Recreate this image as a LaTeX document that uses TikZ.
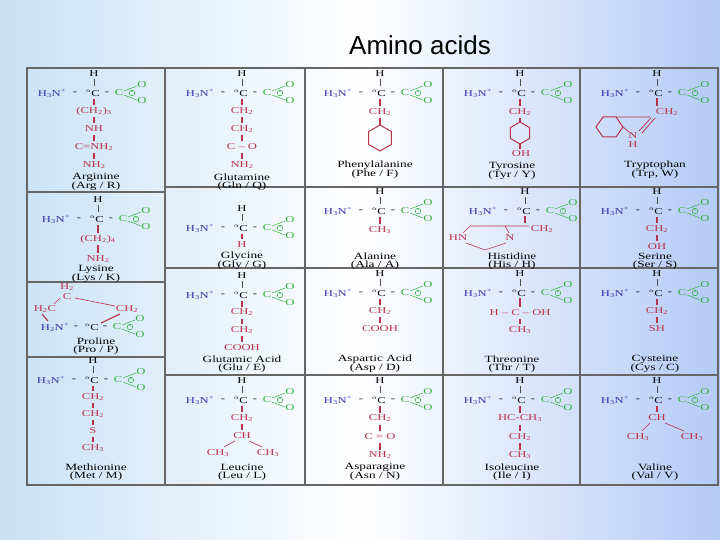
\documentclass[tikz,border=0pt]{standalone}
\usepackage{fontspec}
\setmainfont{Liberation Serif}[FakeStretch=1.4]
\newfontfamily\titlefont{Liberation Sans}
\definecolor{aab}{RGB}{50,50,170}
\definecolor{aar}{RGB}{185,50,75}
\definecolor{aag}{RGB}{50,175,60}
\definecolor{bgb}{RGB}{200,225,245}
\begin{document}
\begin{tikzpicture}[x=1pt,y=-1pt,
 every node/.style={inner sep=0pt,font=\fontsize{9}{10}\selectfont},
 bl/.style={text=aab}, rd/.style={text=aar}, gr/.style={text=aag},
 rl/.style={draw=aar,line width=1.1pt}, gl/.style={draw=aag,line width=0.5pt},
 kl/.style={draw=black!70,line width=0.6pt},
 grid/.style={draw=black!60,line width=1.3pt}]
\useasboundingbox (0,0) rectangle (720,540);
\shade[left color=bgb,right color=bgb!90!blue,middle color=white] (0,0) rectangle (720,540);
\node[font=\titlefont\fontsize{26}{28}\selectfont] (title) at (420,45) {Amino acids};
% core
\newcommand\aacore[2]{%
 \node[bl] at (#1-42,#2) {H\textsubscript{3}N\textsuperscript{+}};
 \node at (#1-19,#2) {-};
 \node at (#1-1,#2) {\textsuperscript{\fontsize{6}{6}\selectfont$\alpha$}C};
 \node at (#1+13,#2) {-};
 \node[gr] (gc) at (#1+25,#2) {C};
 \node[gr] at (#1+48,#2-8) {O};
 \node[gr] at (#1+48,#2+8) {O};
 \draw[gl] (#1+30,#2-2)--(#1+43,#2-7) (#1+30,#2+2)--(#1+43,#2+7);
 \draw[gl] (#1+38,#2) circle (2.8pt);
 \node[gr,font=\fontsize{6}{6}\selectfont] at (#1+38,#2) {-};
 \node at (#1,#2-19) {H};
 \draw[kl] (#1,#2-14)--(#1,#2-7);}
\newcommand\aachain[4]{% x y step list
 \foreach[count=\i] \t in {#4} {
  \node[rd] at (#1,#2+\i*#3) {\t};
  \draw[rl] (#1,#2+\i*#3-#3+6)--(#1,#2+\i*#3-6);}}
\newcommand\aaname[4]{\node[font=\fontsize{9.5}{10}\selectfont] at (#1,#2) {#3}; \node[font=\fontsize{9.5}{10}\selectfont] at (#1,#2+9.5) {#4};}
\newcommand\CH[1]{CH\textsubscript{#1}}
% grid
\draw[grid] (27,68) rectangle (718,485);
\foreach \x in {165,305,443,580} \draw[grid] (\x,68)--(\x,485);
\draw[grid] (27,192)--(165,192) (27,282)--(165,282) (27,357)--(165,357);
\draw[grid] (165,187)--(718,187) (165,268)--(718,268) (165,375)--(718,375);
% Col 1
\aacore{94}{93}\aachain{94}{93}{18}{(\CH2)\textsubscript{3},NH,C=NH\textsubscript{2},NH\textsubscript{2}}
\aaname{96}{177}{Arginine}{(Arg / R)}
\aacore{98}{219}\aachain{98}{219}{20}{(\CH2)\textsubscript{4},NH\textsubscript{2}}
\aaname{96}{269}{Lysine}{(Lys / K)}
% proline
\node[rd] (pc) at (67,292) {\shortstack{H\textsubscript{2}\\C}};
\node[rd] (ph) at (45,309) {H\textsubscript{2}C};
\node[rd] (pr) at (127,309) {\CH2};
\node[bl] (pn) at (55,327) {H\textsubscript{2}N\textsuperscript{+}};
\node at (76,327) {-};
\node (pa) at (92,327) {\textsuperscript{\fontsize{6}{6}\selectfont$\alpha$}C};
\node at (105,327) {-};
\node[gr] at (117,327) {C};
\node[gr] at (140,319) {O}; \node[gr] at (140,335) {O};
\draw[gl] (122,325)--(135,320) (122,329)--(135,334) (130,327) circle (2.8pt);
\node[gr,font=\fontsize{6}{6}\selectfont] at (130,327) {-};
\draw[rl,line width=0.6pt] (60,298)--(54,304) (75,298)--(115,306);
\draw[rl] (42,314)--(48,321) (120,314)--(101,323);
\aaname{96}{341}{Proline}{(Pro / P)}
\aacore{93}{380}\aachain{93}{380}{17}{\CH2,\CH2,S,\CH3}
\aaname{96}{467}{Methionine}{(Met / M)}
% Col 2
\aacore{242}{93}\aachain{242}{93}{18}{\CH2,\CH2,C -- O,NH\textsubscript{2}}
\aaname{242}{177}{Glutamine}{(Gln / Q)}
\aacore{242}{228}\aachain{242}{228}{17}{H}
\aaname{242}{256}{Glycine}{(Gly / G)}
\aacore{242}{295}\aachain{242}{295}{17.5}{\CH2,\CH2,COOH}
\aaname{242}{359}{Glutamic Acid}{(Glu / E)}
\aacore{242}{400}\aachain{242}{400}{18}{\CH2,CH}
\node[rd] at (218,453) {\CH3}; \node[rd] at (268,453) {\CH3};
\draw[rl,line width=0.6pt] (235,441)--(224,447) (249,441)--(262,447);
\aaname{242}{467}{Leucine}{(Leu / L)}
% Col 3
\aacore{380}{93}\aachain{380}{93}{19}{\CH2}
\draw[rl] (380,118)--(380,125);
\draw[aar,line width=1pt] (380,125)--++(30:13)--++(90:13)--++(150:13)--++(210:13)--++(270:13)--cycle;
\aaname{375}{165}{Phenylalanine}{(Phe / F)}
\aacore{380}{211}\aachain{380}{211}{19}{\CH3}
\aaname{375}{256}{Alanine}{(Ala / A)}
\aacore{380}{293}\aachain{380}{293}{18}{\CH2,COOH}
\aaname{375}{359}{Aspartic Acid}{(Asp / D)}
\aacore{380}{400}\aachain{380}{400}{18.5}{\CH2,C = O,NH\textsubscript{2}}
\aaname{375}{467}{Asparagine}{(Asn / N)}
% Col 4
\aacore{520}{93}\aachain{520}{93}{19}{\CH2}
\draw[rl] (520,118)--(520,122);
\draw[aar,line width=1pt] (520,122)--++(30:11)--++(90:11)--++(150:11)--++(210:11)--++(270:11)--cycle;
\draw[rl] (520,144)--(520,149);
\node[rd] at (521,154) {OH};
\aaname{512}{166}{Tyrosine}{(Tyr / Y)}
\aacore{525}{211}
\node[rd] at (542,229) {\CH2};
\draw[rl] (525,216)--(525,223);
\node[rd] at (458,238) {HN}; \node[rd] at (510,238) {N};
\draw[aar,line width=0.6pt] (529,226)--(470,226)--(463,233) (505,226)--(509,233) (466,243)--(485,250)--(506,243);
\aaname{512}{256}{Histidine}{(His / H)}
\aacore{520}{293}
\node[rd] at (520,313) {H -- C -- OH};
\draw[rl] (520,298)--(520,307);
\aachain{520}{313}{17}{\CH3}
\aaname{512}{359}{Threonine}{(Thr / T)}
\aacore{520}{400}\aachain{520}{400}{18.5}{HC-\CH3,\CH2,\CH3}
\aaname{512}{467}{Isoleucine}{(Ile / I)}
% Col 5
\aacore{657}{93}
\draw[rl] (657,98)--(657,106);
\node[rd] at (667,112) {\CH2};
\draw[aar,line width=1pt] (603,117)--(616,117)--(623,127)--(616,137)--(603,137)--(596,127)--cycle;
\draw[aar,line width=0.8pt] (616,117)--(650,117) (623,127)--(629,132) (655,118)--(642,133) (651,118)--(639,131);
\node[rd] at (633,136) {N}; \node[rd] at (633,145) {H};
\aaname{655}{165}{Tryptophan}{(Trp, W)}
\aacore{657}{211}\aachain{657}{211}{18}{\CH2,OH}
\aaname{655}{256}{Serine}{(Ser / S)}
\aacore{657}{293}\aachain{657}{293}{18}{\CH2,SH}
\aaname{655}{359}{Cysteine}{(Cys / C)}
\aacore{657}{400}\aachain{657}{400}{18}{CH}
\node[rd] at (638,437) {\CH3}; \node[rd] at (692,437) {\CH3};
\draw[rl,line width=0.6pt] (650,423)--(642,431) (665,423)--(684,431);
\aaname{655}{467}{Valine}{(Val / V)}
\end{tikzpicture}
\end{document}
